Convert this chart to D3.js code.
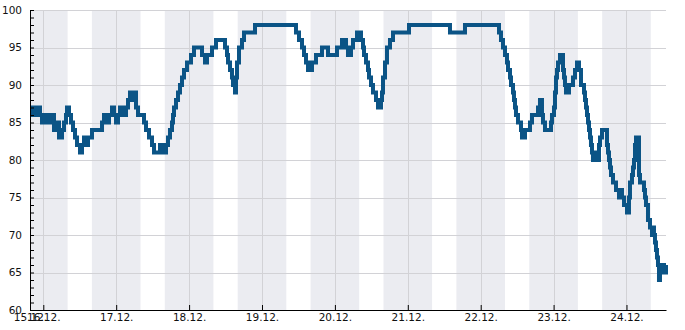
<!DOCTYPE html>
<html>
<head>
<meta charset="utf-8">
<script src="https://cdn.jsdelivr.net/npm/d3@7"></script>
<style>
  body { margin: 0; background: #fff; }
  svg { display: block; font-family: "DejaVu Sans", sans-serif; }
</style>
</head>
<body>
<svg id="chart" width="685" height="330"></svg>
<script>
// hours since 15.12. 00:00
const hours = [
  19.62, 20.28, 20.94, 21.60, 22.91, 23.57, 24.89, 25.55, 26.86, 27.52,
  28.51, 29.17, 30.16, 30.82, 31.47, 31.80, 32.46, 33.12, 33.78, 34.44,
  35.10, 36.08, 36.74, 37.40, 38.06, 38.72, 40.03, 42.01, 43.33, 43.98,
  44.97, 45.63, 46.62, 47.28, 47.94, 48.59, 49.25, 50.57, 51.23, 51.89,
  52.54, 53.20, 53.86, 54.52, 55.18, 56.49, 57.15, 57.81, 58.80, 59.79,
  60.45, 62.42, 63.08, 64.40, 65.05, 65.71, 66.37, 66.70, 67.03, 67.69,
  68.35, 69.00, 69.66, 70.32, 71.31, 72.63, 73.61, 76.25, 77.24, 77.89,
  79.54, 80.86, 83.82, 84.48, 84.81, 85.47, 86.12, 86.45, 87.11, 87.44,
  87.77, 88.43, 89.42, 90.08, 93.70, 107.19, 108.18, 109.17, 109.83, 110.49,
  111.15, 112.46, 113.78, 115.75, 117.73, 120.69, 122.34, 123.66, 124.31, 125.30,
  125.96, 127.28, 128.59, 129.25, 129.58, 130.24, 130.90, 131.23, 131.89, 132.54,
  133.53, 134.19, 135.18, 135.51, 135.84, 136.50, 137.15, 138.14, 139.13, 144.40,
  157.89, 162.83, 174.03, 174.68, 175.34, 176.00, 176.66, 176.99, 177.65, 177.98,
  178.64, 178.96, 179.29, 179.62, 180.28, 181.27, 181.60, 182.59, 184.23, 184.89,
  186.87, 187.52, 188.18, 188.51, 189.17, 191.15, 191.47, 192.13, 192.46, 192.79,
  193.12, 193.45, 194.11, 195.10, 195.43, 195.75, 196.08, 197.07, 198.39, 199.05,
  199.71, 200.36, 201.02, 202.01, 202.34, 202.67, 203.00, 203.33, 203.66, 203.99,
  204.31, 204.64, 204.97, 205.63, 206.29, 206.95, 207.28, 207.94, 209.58, 209.91,
  210.24, 210.57, 210.90, 211.56, 212.55, 213.53, 214.19, 214.52, 215.18, 216.17,
  216.82, 217.15, 217.81, 218.14, 218.47, 218.80, 219.13, 220.12, 220.45, 221.76,
  222.09, 222.42, 223.08, 223.74, 224.40, 224.73, 225.05, 225.38, 225.71, 226.04,
  226.37, 226.70, 227.03, 227.69, 228.35, 229.01
];

const humidity = [
  86, 87, 86, 87, 86, 85, 86, 85, 86, 84,
  85, 83, 84, 85, 86, 87, 86, 85, 84, 83,
  82, 81, 82, 83, 82, 83, 84, 84, 85, 86,
  85, 86, 87, 86, 85, 86, 87, 86, 87, 88,
  89, 88, 89, 87, 86, 86, 85, 84, 83, 82,
  81, 82, 81, 82, 83, 84, 85, 86, 87, 88,
  89, 90, 91, 92, 93, 94, 95, 94, 93, 94,
  95, 96, 95, 94, 93, 92, 91, 90, 89, 91,
  93, 95, 96, 97, 98, 97, 96, 95, 94, 93,
  92, 93, 94, 95, 94, 95, 96, 95, 94, 95,
  96, 97, 96, 95, 94, 93, 92, 91, 90, 89,
  88, 87, 88, 89, 91, 93, 95, 96, 97, 98,
  97, 98, 97, 96, 95, 94, 93, 92, 91, 90,
  89, 88, 87, 86, 85, 84, 83, 84, 85, 86,
  87, 88, 86, 85, 84, 85, 86, 87, 89, 91,
  92, 93, 94, 92, 91, 90, 89, 90, 91, 92,
  93, 92, 90, 89, 88, 87, 86, 85, 84, 83,
  82, 81, 80, 81, 80, 82, 83, 84, 82, 81,
  80, 79, 78, 77, 76, 75, 76, 75, 74, 73,
  75, 77, 78, 79, 80, 82, 83, 78, 77, 76,
  75, 74, 72, 71, 70, 71, 70, 69, 68, 67,
  66, 64, 65, 66, 65, 66
];

const dayLabels = ['15.12.', '16.12.', '17.12.', '18.12.', '19.12.', '20.12.',
                   '21.12.', '22.12.', '23.12.', '24.12.'];
const yTicks = [60, 65, 70, 75, 80, 85, 90, 95, 100];
const nightStart = 16;  // shaded from 16:00 ...
const nightEnd = 8;     // ... to 08:00 next day

const baseDate = new Date(2023, 11, 15);
const toDate = h => new Date(baseDate.getTime() + h * 3600e3);
const data = hours.map((h, i) => ({ t: toDate(h), v: humidity[i] }));

const width = 685, height = 330;
const margin = { top: 10, right: 19, bottom: 20, left: 30 };
const innerWidth = width - margin.left - margin.right;
const innerHeight = height - margin.top - margin.bottom;

const svg = d3.select('#chart');
const g = svg.append('g').attr('transform', `translate(${margin.left},${margin.top})`);

const x = d3.scaleTime()
  .domain([data[0].t, data[data.length - 1].t])
  .range([0, innerWidth]);
const y = d3.scaleLinear().domain([60, 100]).range([innerHeight, 0]);

// Night bands
const bands = [];
for (let d = 0; d < dayLabels.length; d++) {
  const s = toDate(d * 24 + nightStart);
  const e = toDate((d + 1) * 24 + nightEnd);
  const s2 = s < x.domain()[0] ? x.domain()[0] : s;
  const e2 = e > x.domain()[1] ? x.domain()[1] : e;
  if (e2 > s2) bands.push([s2, e2]);
}
g.selectAll('.band')
  .data(bands)
  .join('rect')
  .attr('class', 'band')
  .attr('x', d => x(d[0]))
  .attr('width', d => x(d[1]) - x(d[0]))
  .attr('y', 0)
  .attr('height', innerHeight)
  .attr('fill', '#ebecf1');

// Tick positions: domain start + midnights
const xTickDates = [x.domain()[0]].concat(dayLabels.slice(1).map((l, i) => toDate((i + 1) * 24)));

// Grid lines
g.append('g')
  .selectAll('line')
  .data(yTicks)
  .join('line')
  .attr('x1', 0).attr('x2', innerWidth)
  .attr('y1', d => Math.round(y(d)) + 0.5).attr('y2', d => Math.round(y(d)) + 0.5)
  .attr('stroke', '#d2d2d6');
g.append('g')
  .selectAll('line')
  .data(xTickDates.slice(1))
  .join('line')
  .attr('x1', d => Math.round(x(d)) + 0.5).attr('x2', d => Math.round(x(d)) + 0.5)
  .attr('y1', 0).attr('y2', innerHeight)
  .attr('stroke', '#d2d2d6');

// Line
const line = d3.line()
  .x(d => x(d.t))
  .y(d => y(d.v))
  .curve(d3.curveStepAfter);
g.append('path')
  .datum(data)
  .attr('fill', 'none')
  .attr('stroke', '#0b5486')
  .attr('stroke-width', 4)
  .attr('stroke-linejoin', 'miter')
  .attr('d', line);

// X axis
g.append('g')
  .attr('transform', `translate(0,${innerHeight})`)
  .call(d3.axisBottom(x)
    .tickValues(xTickDates)
    .tickSizeInner(-5)
    .tickSizeOuter(0)
    .tickPadding(4)
    .tickFormat((d, i) => dayLabels[i]))
  .call(a => a.select('.domain').attr('stroke', '#000'))
  .call(a => a.selectAll('line').attr('stroke', '#000'))
  .selectAll('text')
  .attr('fill', '#111')
  .attr('font-size', '10.5px')
  .attr('font-family', '"DejaVu Sans", sans-serif');

// Y axis: minor ticks every unit, labels on major ticks only
g.append('g')
  .call(d3.axisLeft(y)
    .tickValues(d3.range(60, 101, 1).filter(v => !yTicks.includes(v)))
    .tickSizeInner(-4)
    .tickSizeOuter(0)
    .tickFormat(''))
  .call(a => a.select('.domain').remove())
  .call(a => a.selectAll('line').attr('stroke', '#000'));

g.append('g')
  .call(d3.axisLeft(y)
    .tickValues(yTicks)
    .tickSizeInner(-4)
    .tickSizeOuter(0)
    .tickPadding(8))
  .call(a => a.select('.domain').attr('stroke', '#000'))
  .call(a => a.selectAll('line').attr('stroke', '#000'))
  .selectAll('text')
  .attr('fill', '#111')
  .attr('font-size', '10.5px')
  .attr('font-family', '"DejaVu Sans", sans-serif');
</script>
</body>
</html>
